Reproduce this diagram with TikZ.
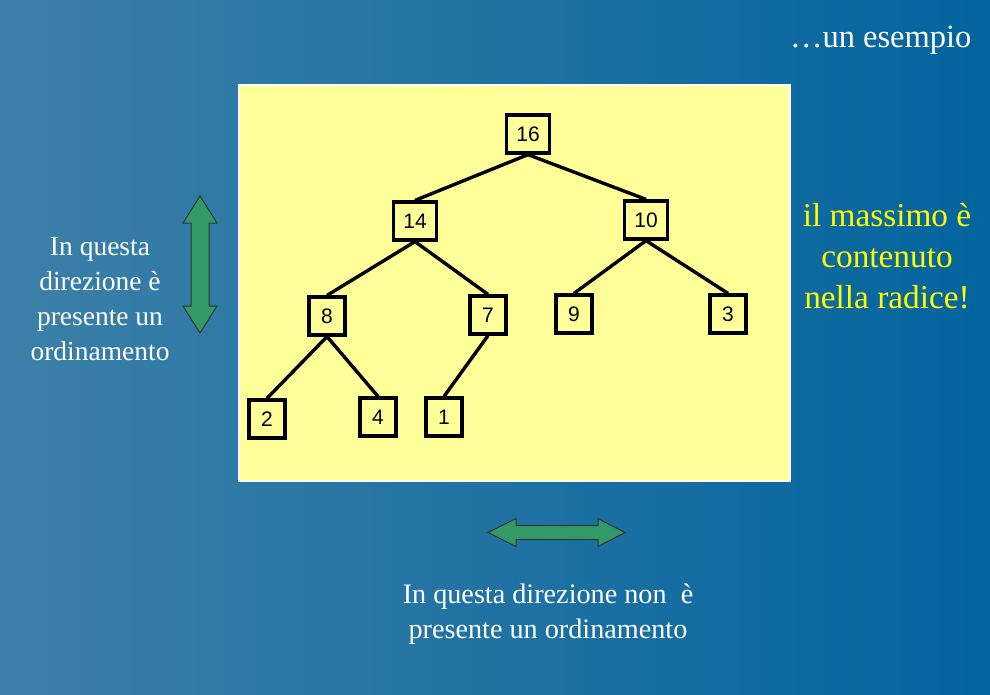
\documentclass[tikz,border=0pt]{standalone}
\usepackage{fontspec}
\setmainfont{Liberation Serif}
\newfontfamily\keyfont{Liberation Sans}
\usepackage{tikz}
\definecolor{slideblue}{HTML}{03649E}
\definecolor{slidelight}{HTML}{3C80A8}
\definecolor{notepaper}{HTML}{FFFF99}
\definecolor{arrowgreen}{HTML}{339966}
\definecolor{notice}{HTML}{FFFF00}

\begin{document}
\begin{tikzpicture}[x=1pt, y=-1pt,
    key/.style={rectangle, draw, line width=3.2pt, fill=notepaper, inner xsep=10pt, inner ysep=0pt,
      minimum width=36pt, minimum height=38pt, font=\keyfont\fontsize{21}{21}\selectfont},
    branch/.style={line width=3.4pt},
    caption/.style={text=white, align=center, font=\fontsize{27.5}{35}\selectfont},
    bigarrow/.style={fill=arrowgreen, draw=black!80, line width=1pt}]
        \useasboundingbox (0,0) rectangle (990,694);
        \shade[left color=slidelight, right color=slideblue] (0,0) rectangle (990,694);
        \draw[white, line width=2pt, fill=notepaper] (239,85) rectangle (790,481);

        \node (00) [key] at (528, 134) {16};

        \node (10) [key] at (415, 221) {14};
        \node (11) [key] at (646, 220) {10};

        \node (20) [key] at (327, 316) {8};
        \node (21) [key] at (488, 315) {7};
        \node (22) [key] at (574, 314) {9};
        \node (23) [key] at (728, 314) {3};

        \node (30) [key] at (267, 419) {2};
        \node (31) [key] at (378, 417) {4};
        \node (32) [key] at (444, 417) {1};

        \path[branch]
        (00.south) edge (10.north) edge (11.north)
        (10.south) edge (20.north) edge (21.north)
        (11.south) edge (22.north) edge (23.north)

        (20.south) edge (30.north) edge (31.north)
        (21.south) edge (32.north)
        ;

        \draw[bigarrow] (200,196) -- (217,223) -- (209,223) -- (209,306) -- (217,306) -- (200,333)
          -- (183,306) -- (191,306) -- (191,223) -- (183,223) -- cycle;
        \draw[bigarrow] (488,532.5) -- (516,518.5) -- (516,525.5) -- (598,525.5) -- (598,518.5) -- (625,532.5)
          -- (598,546.5) -- (598,539.5) -- (516,539.5) -- (516,546.5) -- cycle;

        \node (title) [text=white, anchor=east, font=\fontsize{32.5}{32.5}\selectfont] at (975, 40) {…un esempio};
        \node (vtext) [caption] at (100, 299) {In questa\\direzione è\\presente un\\ordinamento};
        \node (claim) [caption, text=notice, font=\fontsize{33.3}{41}\selectfont] at (887, 256) {il massimo è\\contenuto\\nella radice!};
        \node (htext) [caption, font=\fontsize{28.2}{35}\selectfont] at (548, 614) {In questa direzione non~ è\\presente un ordinamento};
      \end{tikzpicture}
\end{document}
